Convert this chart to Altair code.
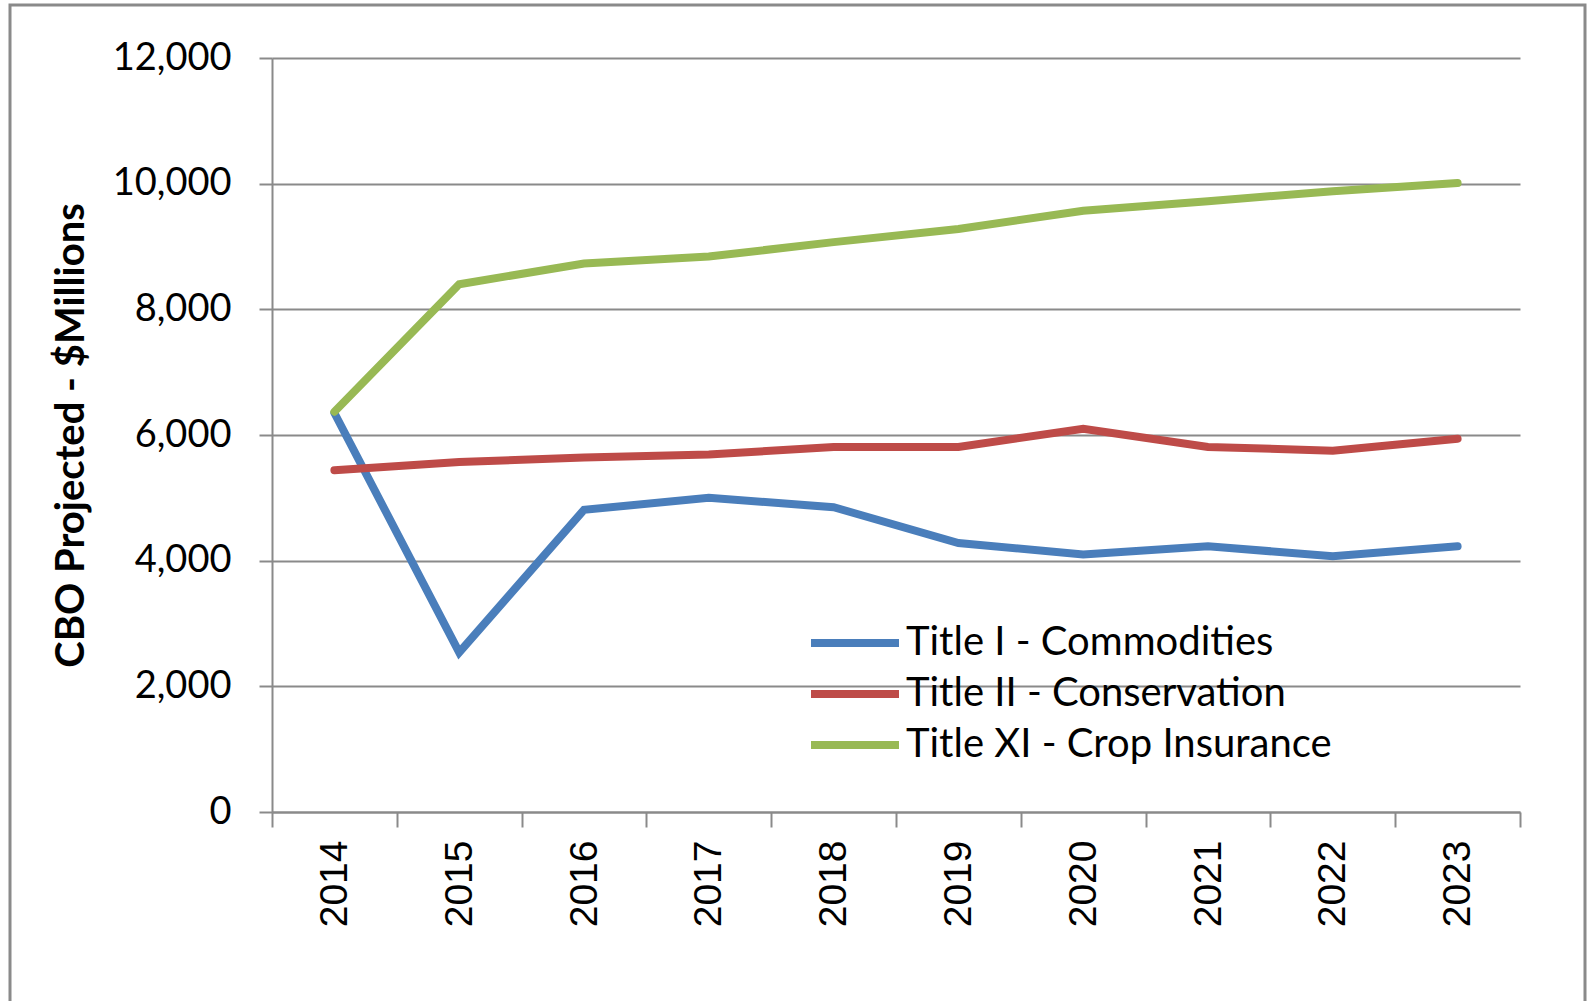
import altair as alt
import pandas as pd

years = [2014, 2015, 2016, 2017, 2018, 2019, 2020, 2021, 2022, 2023]
series_names = ["Title I - Commodities", "Title II - Conservation", "Title XI - Crop Insurance"]
commodities = [6350, 2540, 4810, 5000, 4850, 4280, 4100, 4230, 4070, 4230]
conservation = [5440, 5570, 5640, 5690, 5810, 5810, 6100, 5810, 5750, 5940]
crop_insurance = [6370, 8400, 8730, 8840, 9070, 9280, 9570, 9720, 9880, 10010]
colors = ["#4A7EBB", "#BE4B48", "#98B954"]
y_ticks = [0, 2000, 4000, 6000, 8000, 10000, 12000]

rows = []
for name, vals in zip(series_names, [commodities, conservation, crop_insurance]):
    for yr, v in zip(years, vals):
        rows.append({"Year": yr, "Value": v, "Series": name})
df = pd.DataFrame(rows)

x_vals = []
for yr in years:
    x_vals.append(yr - 0.5)
    x_vals.append(yr)
x_vals.append(years[-1] + 0.5)

FONT = "Lato"
GRID = "#8a8a8a"

lines = alt.Chart(df).mark_line(strokeWidth=8, strokeCap="round", strokeJoin="miter").encode(
    x=alt.X("Year:Q",
            scale=alt.Scale(domain=[years[0] - 0.5, years[-1] + 0.5], nice=False, zero=False),
            axis=alt.Axis(values=x_vals, title=None, grid=False,
                          labelExpr="datum.value % 1 == 0 ? toString(datum.value) : ''",
                          tickOpacity=alt.ExprRef("datum.value % 1 == 0 ? 0 : 1"),
                          labelAngle=270, labelAlign="right", labelBaseline="middle",
                          labelFont="Liberation Sans", labelFontSize=39, labelColor="#000000",
                          labelPadding=13, tickSize=15, tickWidth=2, tickColor=GRID,
                          domainColor=GRID, domainWidth=2, labelOverlap=False, labelFlush=False)),
    y=alt.Y("Value:Q",
            scale=alt.Scale(domain=[0, 12000], nice=False),
            axis=alt.Axis(values=y_ticks, format=",d", title="CBO Projected - $Millions",
                          grid=True, gridColor=GRID, gridWidth=2,
                          tickSize=13, tickWidth=2, tickColor=GRID,
                          domainColor=GRID, domainWidth=2,
                          labelFont=FONT, labelFontSize=38, labelColor="#000000", labelPadding=28,
                          titleFont=FONT, titleFontSize=40, titleFontWeight="bold", titleColor="#000000",
                          titleAngle=270, titleX=-201, titleY=377, titleAlign="center",
                          titleBaseline="middle")),
    color=alt.Color("Series:N",
                    scale=alt.Scale(domain=series_names, range=colors),
                    sort=series_names,
                    legend=alt.Legend(title=None, orient="none", legendX=563, legendY=565,
                                      symbolType="M-4,0H4", symbolSize=484, symbolStrokeWidth=8,
                                      labelFont=FONT, labelFontSize=40, labelColor="#000000",
                                      labelLimit=0, labelOffset=31, rowPadding=11, padding=0)),
    order=alt.Order("Series:N"),
)

border = alt.Chart(alt.Data(values=[{"b": 1}])).mark_rect(
    fill=None, stroke="#8a8a8a", strokeWidth=3
).encode(
    x=alt.value(-262), x2=alt.value(1313), y=alt.value(-53), y2=alt.value(1000)
)

chart = alt.layer(border, lines).properties(
    width=1248, height=754,
    autosize=alt.AutoSizeParams(type="none"),
    padding={"left": 272, "top": 58, "right": 73, "bottom": 189},
    background="white",
).configure_view(stroke=None)

chart.save("out.html", embed_options={"renderer": "svg", "actions": False})
